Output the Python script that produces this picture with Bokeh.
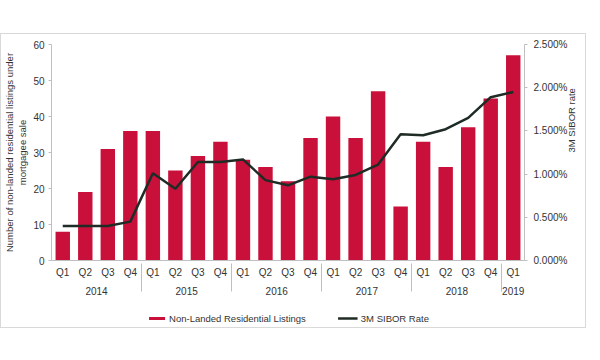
from bokeh.plotting import figure
from bokeh.models import (FactorRange, Range1d, LinearAxis, FixedTicker,
                          PrintfTickFormatter, Legend, LegendItem, ColumnDataSource, Spacer)
from bokeh.layouts import column
from bokeh.embed import file_html
from bokeh.resources import INLINE
import math

years = ["2014"] * 4 + ["2015"] * 4 + ["2016"] * 4 + ["2017"] * 4 + ["2018"] * 4 + ["2019"]
quarters = ["Q1", "Q2", "Q3", "Q4"] * 5 + ["Q1"]
listings = [8, 19, 31, 36, 36, 25, 29, 33, 28, 26, 22, 34, 40, 34, 47, 15, 33, 26, 37, 45, 57]
sibor = [0.40, 0.40, 0.40, 0.45, 1.01, 0.83, 1.14, 1.14, 1.17, 0.93, 0.87, 0.97,
         0.94, 0.99, 1.11, 1.46, 1.45, 1.52, 1.65, 1.89, 1.95]
left_ticks = [0, 10, 20, 30, 40, 50, 60]
right_ticks = [0.0, 0.5, 1.0, 1.5, 2.0, 2.5]
series_names = ["Non-Landed Residential Listings", "3M SIBOR Rate"]

FONT = "Liberation Sans"
BAR = "#C8103A"
LINE = "#1F2B25"
AXIS = "#BFBFBF"
TXT = "#333333"

factors = list(zip(years, quarters))
src = ColumnDataSource(dict(x=factors, idx=list(range(len(factors))),
                            listings=listings, sibor=sibor))

p = figure(x_range=FactorRange(*factors, group_padding=0, factor_padding=0, range_padding=0),
           y_range=Range1d(0, 60),
           width=584, height=268,
           output_backend="svg", toolbar_location=None,
           min_border_top=10, min_border_left=0, min_border_right=0, min_border_bottom=42)
p.extra_y_ranges = {"rate": Range1d(0, 2.5)}

p.vbar(x="x", top="listings", width=0.64, source=src, fill_color=BAR, line_color=None)
p.line(x="x", y="sibor", source=src, y_range_name="rate", line_color=LINE, line_width=2.5)

p.xgrid.grid_line_color = None
p.ygrid.grid_line_color = None
p.outline_line_color = None

# left axis
ya = p.yaxis[0]
ya.ticker = FixedTicker(ticks=left_ticks)
ya.axis_label = "Number of non-landed residential listings under\nmortgagee sale"
ya.axis_label_text_font = FONT
ya.axis_label_text_font_size = "9.5px"
ya.axis_label_text_font_style = "normal"
ya.axis_label_text_color = TXT
ya.axis_label_standoff = 2
ya.major_label_text_font = FONT
ya.major_label_text_font_size = "10px"
ya.major_label_text_color = TXT
ya.axis_line_color = AXIS
ya.major_tick_line_color = AXIS
ya.major_tick_out = 3
ya.major_tick_in = 0
ya.minor_tick_line_color = None
ya.major_label_standoff = 4

# right axis
ra = LinearAxis(y_range_name="rate", ticker=FixedTicker(ticks=right_ticks),
                formatter=PrintfTickFormatter(format="%.3f%%"))
ra.axis_label = "3M SIBOR rate"
ra.axis_label_text_font = FONT
ra.axis_label_text_font_size = "9.5px"
ra.axis_label_text_font_style = "normal"
ra.axis_label_text_color = TXT
ra.axis_label_standoff = 1
ra.axis_label_orientation = math.pi / 2
ra.major_label_text_font = FONT
ra.major_label_text_font_size = "10px"
ra.major_label_text_color = TXT
ra.axis_line_color = AXIS
ra.major_tick_line_color = AXIS
ra.major_tick_out = 3
ra.major_tick_in = 0
ra.minor_tick_line_color = None
ra.major_label_standoff = 6
p.add_layout(ra, "right")

# x axis
xa = p.xaxis[0]
xa.axis_line_color = AXIS
xa.major_tick_line_color = None
xa.major_tick_out = 0
xa.major_tick_in = 0
xa.major_label_text_font = FONT
xa.major_label_text_font_size = "10px"
xa.major_label_text_color = TXT
xa.major_label_orientation = "horizontal"
xa.group_text_font = FONT
xa.group_text_font_size = "10px"
xa.group_text_color = TXT
xa.group_text_font_style = "normal"
xa.separator_line_color = AXIS
xa.separator_line_width = 1
xa.major_label_standoff = 6

# legend strip: same series drawn off-range (invisible), only the legend shows
lf = figure(width=584, height=25, x_range=Range1d(0, 1), y_range=Range1d(1000, 1001),
            x_axis_type=None, y_axis_type=None, output_backend="svg",
            toolbar_location=None, min_border=0)
lf.grid.visible = False
lf.outline_line_color = None
sample_bar = lf.vbar(x="idx", top="listings", width=0.5, source=src,
                     fill_color=BAR, line_color=None)
sample_line = lf.line(x="idx", y="sibor", source=src, line_color=LINE, line_width=2.5)
legend = Legend(items=[LegendItem(label=series_names[0], renderers=[sample_bar]),
                       LegendItem(label=series_names[1], renderers=[sample_line])],
                orientation="horizontal", location="bottom_center",
                label_text_font=FONT, label_text_font_size="9.5px", label_text_color=TXT,
                label_height=12, glyph_width=20, glyph_height=4, spacing=32,
                padding=0, margin=3,
                border_line_color=None, background_fill_alpha=0, label_standoff=3)
lf.add_layout(legend, "center")

inner = column(p, lf, spacing=0, styles={"border": "1px solid #D9D9D9"})
layout = column(Spacer(height=33, width=10), inner, spacing=0)

open("out.html", "w").write(file_html(layout, INLINE))
